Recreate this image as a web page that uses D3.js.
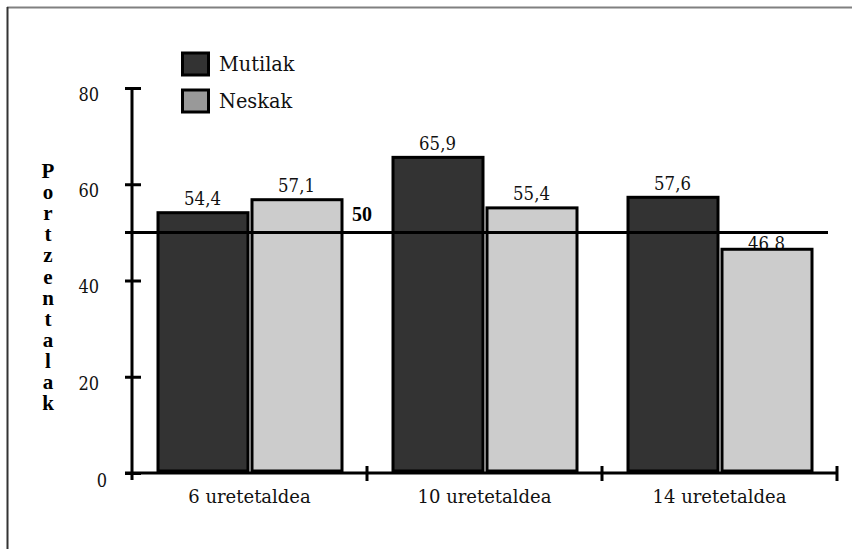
<!DOCTYPE html>
<html>
<head>
<meta charset="utf-8">
<script src="https://cdn.jsdelivr.net/npm/d3@7"></script>
<style>
  html, body { margin: 0; padding: 0; background: #fff; }
  svg { display: block; }
</style>
</head>
<body>
<svg id="chart" width="852" height="549"></svg>
<script>
// Age groups and the two series (percent)
const categories = ["6 uretetaldea", "10 uretetaldea", "14 uretetaldea"];
const seriesNames = ["Mutilak", "Neskak"];
const mutilak = [54.4, 65.9, 57.6];
const neskak = [57.1, 55.4, 46.8];
const yTicks = [0, 20, 40, 60, 80];
const referenceValue = 50;
const yTitle = "Portzentalak";

const barFill = { Mutilak: "#333333", Neskak: "#cccccc" };
const legendFill = { Mutilak: "#333333", Neskak: "#999999" };
const valuesBySeries = { Mutilak: mutilak, Neskak: neskak };

const fmt = v => String(v).replace(".", ",");
const serif = "'DejaVu Serif', serif";
const boldSerif = "'Liberation Serif', 'DejaVu Serif', serif";

// narrow a text horizontally by a factor, keeping its anchor
function squeeze(sel, factor) {
  sel.each(function () {
    const len = this.getComputedTextLength();
    d3.select(this).attr("textLength", len * factor).attr("lengthAdjust", "spacingAndGlyphs");
  });
}

const svg = d3.select("#chart");

// frame lines (top and left)
svg.append("line").attr("x1", 7).attr("x2", 852).attr("y1", 7.5).attr("y2", 7.5)
  .attr("stroke", "#808080").attr("stroke-width", 2);
svg.append("line").attr("x1", 7.5).attr("x2", 7.5).attr("y1", 7).attr("y2", 549)
  .attr("stroke", "#333333").attr("stroke-width", 2);

const y = d3.scaleLinear().domain([0, 80]).range([473, 88]);
const x0 = d3.scaleBand().domain(categories).range([132, 837]);
const bw = x0.bandwidth();
const x1 = d3.scaleBand().domain(seriesNames).range([bw * 0.1, bw * 0.9]);

const rows = categories.map((c, i) => ({
  cat: c,
  values: seriesNames.map(s => ({ series: s, value: valuesBySeries[s][i] }))
}));

// value labels (drawn first so bars sit on top of them)
const refY = y(referenceValue);
const labelG = svg.append("g");
rows.forEach(r => {
  r.values.forEach(d => {
    let baseline = y(d.value) - 6;
    // keep labels from colliding with the reference line
    if (baseline - 14 < refY + 2 && baseline > refY - 2) baseline = refY + 4 + 14;
    labelG.append("text")
      .attr("x", x0(r.cat) + x1(d.series) + x1.bandwidth() / 2)
      .attr("y", baseline)
      .attr("text-anchor", "middle")
      .attr("font-family", serif)
      .attr("font-size", 19)
      .attr("fill", "#111")
      .text(fmt(d.value));
  });
});
squeeze(labelG.selectAll("text"), 0.87);

// bars
const barG = svg.append("g");
rows.forEach(r => {
  barG.selectAll(null)
    .data(r.values)
    .join("rect")
    .attr("x", d => x0(r.cat) + x1(d.series) + 2.5)
    .attr("y", d => y(d.value) + 1.5)
    .attr("width", x1.bandwidth() - 4)
    .attr("height", d => y(0) - y(d.value) - 3.5)
    .attr("fill", d => barFill[d.series])
    .attr("stroke", "#000")
    .attr("stroke-width", 3);
});

// reference line at 50
svg.append("line")
  .attr("x1", 125).attr("x2", 828)
  .attr("y1", refY).attr("y2", refY)
  .attr("stroke", "#000").attr("stroke-width", 3);
svg.append("text")
  .attr("x", 352).attr("y", refY - 11)
  .attr("font-family", boldSerif).attr("font-weight", "bold").attr("font-size", 20)
  .attr("fill", "#000")
  .text(referenceValue);

// y axis
const axisX = 132;
const yAxis = svg.append("g")
  .attr("transform", `translate(${axisX},0)`)
  .call(d3.axisLeft(y).tickValues(yTicks).tickSize(7).tickFormat(d3.format("d")));
yAxis.select(".domain").remove();
yAxis.selectAll(".tick line")
  .attr("x1", -7).attr("x2", 9)
  .attr("stroke", "#000").attr("stroke-width", 3);
const tickText = yAxis.selectAll(".tick text")
  .attr("x", d => d === 0 ? -25 : -33)
  .attr("dy", null)
  .attr("y", d => d === 0 ? 13.5 : 12.4)
  .attr("font-family", serif)
  .attr("font-size", 18)
  .attr("fill", "#111");
squeeze(tickText, 0.9);
svg.append("line")
  .attr("x1", axisX).attr("x2", axisX)
  .attr("y1", y(80)).attr("y2", y(0) + 7)
  .attr("stroke", "#000").attr("stroke-width", 3);

// x axis with ticks at the group boundaries
svg.append("line")
  .attr("x1", 125).attr("x2", x0.range()[1])
  .attr("y1", y(0)).attr("y2", y(0))
  .attr("stroke", "#000").attr("stroke-width", 3);
const bounds = categories.map(c => x0(c)).concat([x0.range()[1]]);
svg.selectAll(null)
  .data(bounds.slice(1))
  .join("line")
  .attr("x1", d => d).attr("x2", d => d)
  .attr("y1", y(0) - 7).attr("y2", y(0) + 8)
  .attr("stroke", "#000").attr("stroke-width", 3);
svg.selectAll(null)
  .data(categories)
  .join("text")
  .attr("x", d => x0(d) + bw / 2)
  .attr("y", 503)
  .attr("text-anchor", "middle")
  .attr("font-family", serif)
  .attr("font-size", 18)
  .attr("fill", "#111")
  .text(d => d);

// vertical axis title, letters stacked upright
svg.append("text")
  .attr("x", 48)
  .attr("y", 159)
  .style("writing-mode", "vertical-rl")
  .style("text-orientation", "upright")
  .style("letter-spacing", "-2.9px")
  .attr("font-family", boldSerif)
  .attr("font-weight", "bold")
  .attr("font-size", 21)
  .attr("fill", "#000")
  .text(yTitle);

// legend
const legend = svg.append("g");
seriesNames.forEach((s, i) => {
  const top = 53 + i * 37;
  legend.append("rect")
    .attr("x", 182.5).attr("y", top)
    .attr("width", 26).attr("height", 22)
    .attr("fill", legendFill[s])
    .attr("stroke", "#000").attr("stroke-width", 3);
  legend.append("text")
    .attr("x", 219).attr("y", top + 17.5)
    .attr("font-family", serif)
    .attr("font-size", 21)
    .attr("fill", "#111")
    .text(s);
});
squeeze(legend.selectAll("text"), 0.92);
</script>
</body>
</html>
